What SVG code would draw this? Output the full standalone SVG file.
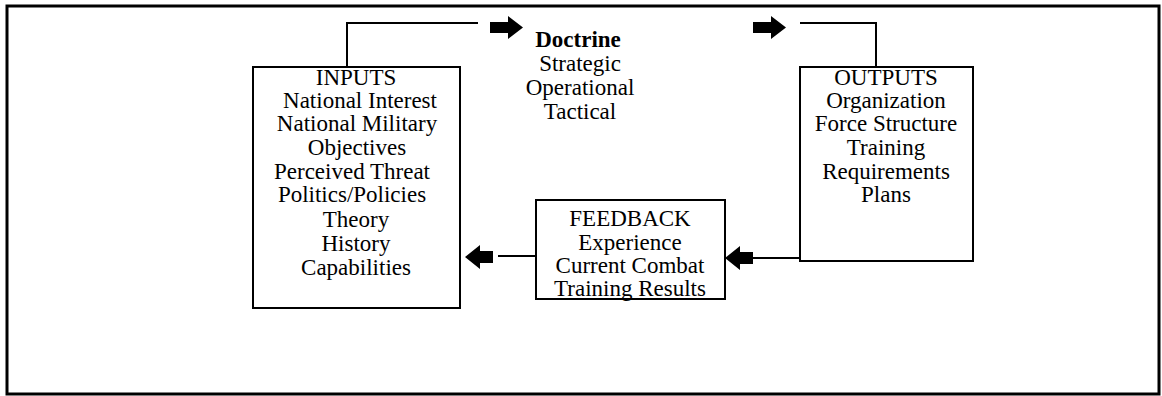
<svg xmlns="http://www.w3.org/2000/svg" width="1162" height="396" viewBox="0 0 1162 396">
  <defs>
    <style>
      .frame { fill: none; stroke: #000; stroke-width: 3; }
      .box { fill: #fff; stroke: #000; stroke-width: 2; }
      .wire { fill: none; stroke: #000; stroke-width: 2; }
      .blk { fill: #000; stroke: none; }
      text { font-family: "Liberation Serif", "Times New Roman", serif; font-size: 23px; fill: #000; text-anchor: middle; }
      .bold { font-weight: bold; }
    </style>
  </defs>

  <rect x="0" y="0" width="1162" height="396" fill="#fff"/>
  <!-- page frame -->
  <rect class="frame" x="7" y="6" width="1152" height="388"/>

  <!-- connectors -->
  <g id="connectors">
    <path class="wire" d="M347 67 V23 H478"/>
    <path class="blk" d="M490 22 H508 V16 L523 27.5 L508 39 V33 H490 Z"/>
    <path class="blk" d="M753 22 H771 V16 L786 27.5 L771 39 V33 H753 Z"/>
    <path class="wire" d="M800 23 H876 V67"/>
    <path class="wire" d="M800 258 H753"/>
    <path class="blk" d="M753 252 H740 V246 L725 258 L740 270 V264 H753 Z"/>
    <path class="wire" d="M536 256 H498"/>
    <path class="blk" d="M493 251 H480 V245 L465 257 L480 269 V263 H493 Z"/>
  </g>

  <g id="doctrine">
    <text class="bold" x="578" y="47">Doctrine</text>
    <text x="580" y="71">Strategic</text>
    <text x="580" y="95">Operational</text>
    <text x="580" y="119">Tactical</text>
  </g>

  <g id="inputs">
    <rect class="box" x="253" y="67" width="207" height="241"/>
    <text x="356" y="85">INPUTS</text>
    <text x="360" y="108">National Interest</text>
    <text x="357" y="131">National Military</text>
    <text x="357" y="155">Objectives</text>
    <text x="352" y="179">Perceived Threat</text>
    <text x="352" y="202">Politics/Policies</text>
    <text x="356" y="227">Theory</text>
    <text x="356" y="251">History</text>
    <text x="356" y="275">Capabilities</text>
  </g>

  <g id="feedback">
    <rect class="box" x="536" y="200" width="189" height="99"/>
    <text x="630" y="226">FEEDBACK</text>
    <text x="630" y="250">Experience</text>
    <text x="630" y="273">Current Combat</text>
    <text x="630" y="296">Training Results</text>
  </g>

  <g id="outputs">
    <rect class="box" x="800" y="67" width="173" height="194"/>
    <text x="886" y="85">OUTPUTS</text>
    <text x="886" y="108">Organization</text>
    <text x="886" y="131">Force Structure</text>
    <text x="886" y="155">Training</text>
    <text x="886" y="179">Requirements</text>
    <text x="886" y="202">Plans</text>
  </g>
</svg>
